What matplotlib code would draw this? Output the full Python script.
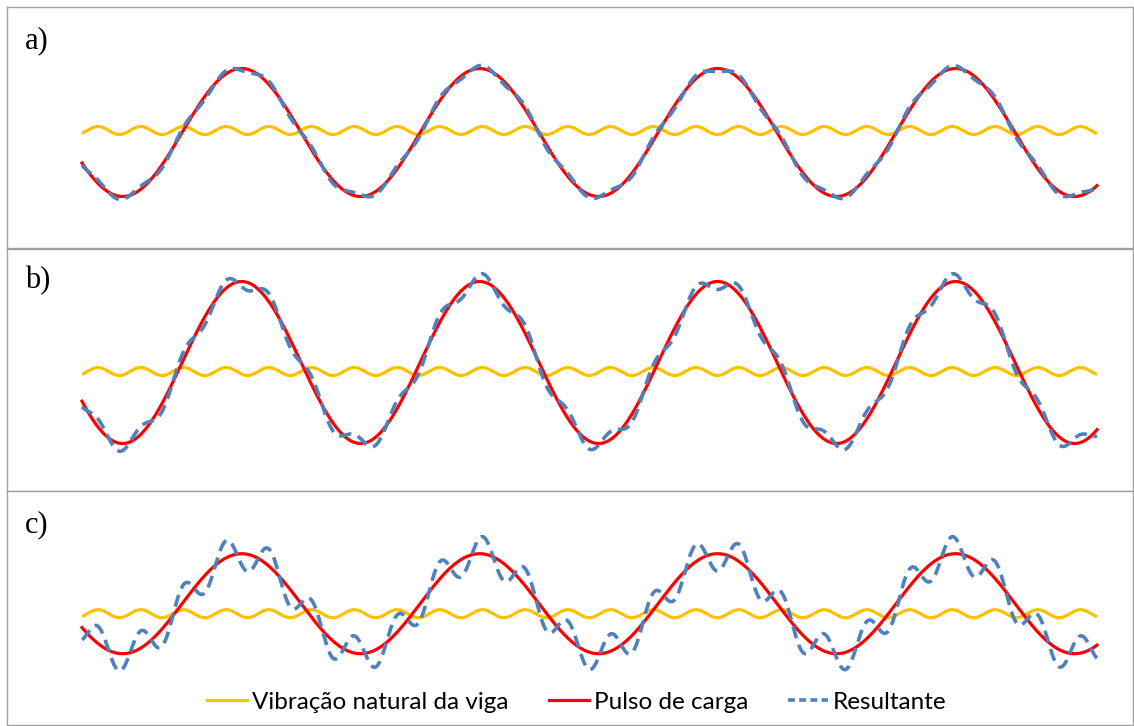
import numpy as np
import matplotlib
matplotlib.use("Agg")
import matplotlib.pyplot as plt
from matplotlib.lines import Line2D

# load pulse cycles shown in each panel
n_cycles = 4.265
pulse_phase = 3.64                 # rad, at the left end
natural_period = 0.1795            # in load-pulse cycles
natural_peak = 0.0672              # first crest of the natural vibration

panel_labels = ["a)", "b)", "c)"]
pulse_amp = [6.4, 8.1, 5.0]
natural_amp = [0.4, 0.4, 0.4]
natural_offset = [0.2, -0.9, -1.0]
resultant_gain = [0.8, 2.0, 4.3]   # natural wave added on top of the pulse

legend_names = ["Vibração natural da viga", "Pulso de carga", "Resultante"]
c_nat = "#FFC000"
c_pulse = "#FF0000"
c_res = "#4F81BD"

W, H = 1134, 726
fig = plt.figure(figsize=(W / 100, H / 100), dpi=100)

# panel boxes in pixels: top, bottom, curve centre line
boxes = [(7, 248, 132.5), (249, 491, 362.5), (491, 725, 603.7)]
x0, x1 = 7, 1133
cx0, cx1 = 82, 1097
label_y = [41, 281, 525]

t = np.linspace(0, n_cycles, 3000)
px_per_cycle = (cx1 - cx0) / n_cycles

for i, (top, bot, mid) in enumerate(boxes):
    ax = fig.add_axes([x0 / W, 1 - bot / H, (x1 - x0) / W, (bot - top) / H])
    pulse = pulse_amp[i] * np.sin(2 * np.pi * t + pulse_phase)
    wave = natural_amp[i] * np.cos(2 * np.pi * (t - natural_peak) / natural_period)
    natural = natural_offset[i] + wave
    result = pulse + resultant_gain[i] * wave

    ax.plot(t, natural, color=c_nat, lw=2.3, solid_capstyle="butt")
    ax.plot(t, pulse, color=c_pulse, lw=2.3)
    ax.plot(t, result, color=c_res, lw=2.6, ls=(0, (3.4, 1.9)))

    # 10 px per unit vertically
    ax.set_ylim(-(bot - mid) / 10, (mid - top) / 10)
    ax.set_xlim(-(cx0 - x0) / px_per_cycle, n_cycles + (x1 - cx1) / px_per_cycle)
    ax.set_xticks([])
    ax.set_yticks([])
    for s in ax.spines.values():
        s.set_color("#A0A0A0")
        s.set_linewidth(1.0)

    fig.text(25 / W, 1 - label_y[i] / H, panel_labels[i], family="Liberation Serif",
             fontsize=22, va="center", ha="left")

handles = [
    Line2D([], [], color=c_nat, lw=2.3),
    Line2D([], [], color=c_pulse, lw=2.3),
    Line2D([], [], color=c_res, lw=2.6, ls=(0, (1.9, 1.2))),
]
fig.legend(handles, legend_names, loc="center", bbox_to_anchor=(577 / W, 1 - 702 / H),
           ncol=3, frameon=False, handlelength=1.65, handletextpad=0.2,
           columnspacing=1.65, prop={"family": "Lato", "size": 17.5})

fig.savefig("out.png", dpi=100)
